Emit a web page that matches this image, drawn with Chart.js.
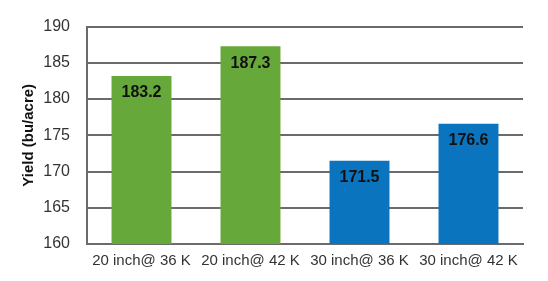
<!DOCTYPE html>
<html>
<head>
<meta charset="utf-8">
<script src="https://cdn.jsdelivr.net/npm/chart.js@4"></script>
<style>
html,body{margin:0;padding:0;background:#fff;}
#wrap{width:548px;height:281px;position:relative;}
</style>
</head>
<body>
<div id="wrap"><canvas id="c" width="548" height="281"></canvas></div>
<script>
const categories = ["20 inch@ 36 K", "20 inch@ 42 K", "30 inch@ 36 K", "30 inch@ 42 K"];
const yields = [183.2, 187.3, 171.5, 176.6];
const barColors = ["#67a83b", "#67a83b", "#0b74bf", "#0b74bf"];
const yTicks = [160, 165, 170, 175, 180, 185, 190];
const yTitle = "Yield (bu/acre)";

const valueLabels = {
  id: 'valueLabels',
  afterDatasetsDraw(chart) {
    const ctx = chart.ctx;
    const meta = chart.getDatasetMeta(0);
    ctx.save();
    ctx.font = 'bold 16px "Liberation Sans", Arial, sans-serif';
    ctx.fillStyle = '#111';
    ctx.textAlign = 'center';
    ctx.textBaseline = 'middle';
    meta.data.forEach((bar, i) => {
      ctx.fillText(yields[i].toFixed(1), bar.x, bar.y + 17);
    });
    ctx.restore();
  }
};

new Chart(document.getElementById('c'), {
  type: 'bar',
  data: {
    labels: categories,
    datasets: [{
      data: yields,
      backgroundColor: barColors,
      borderWidth: 0,
      barPercentage: 0.55,
      categoryPercentage: 1.0
    }]
  },
  options: {
    responsive: false,
    animation: false,
    events: [],
    layout: { padding: { left: 0, right: 25, top: 11, bottom: 0 } },
    plugins: { legend: { display: false }, tooltip: { enabled: false } },
    scales: {
      x: {
        grid: { display: false, drawTicks: false },
        border: { display: true, color: '#6b6b6b', width: 2 },
        ticks: {
          color: '#333',
          padding: 8,
          maxRotation: 0,
          autoSkip: false,
          font: { family: '"Liberation Sans", Arial, sans-serif', size: 15 }
        },
        afterFit(scale) { scale.height = 37; }
      },
      y: {
        min: 160,
        max: 190,
        afterBuildTicks(scale) { scale.ticks = yTicks.map(v => ({ value: v })); },
        grid: { color: '#6b6b6b', lineWidth: 2, drawTicks: false },
        border: { display: true, color: '#6b6b6b', width: 2 },
        ticks: {
          color: '#333',
          padding: 17,
          font: { family: '"Liberation Sans", Arial, sans-serif', size: 16 }
        },
        title: {
          display: true,
          text: yTitle,
          color: '#111',
          padding: { top: 20, bottom: 0 },
          font: { family: '"Liberation Sans", Arial, sans-serif', size: 15, weight: 'bold' }
        },
        afterFit(scale) { scale.width = 87; }
      }
    }
  },
  plugins: [valueLabels]
});
</script>
</body>
</html>
